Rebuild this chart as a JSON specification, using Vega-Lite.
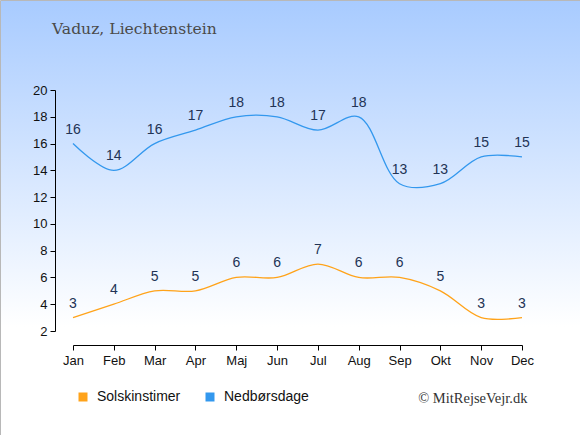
{
  "$schema": "https://vega.github.io/schema/vega-lite/v6.json",
  "width": 580,
  "height": 435,
  "padding": 0,
  "autosize": {"type": "none"},
  "title": {
    "text": "Vaduz, Liechtenstein",
    "anchor": "start",
    "orient": "top",
    "offset": -38,
    "dx": 52,
    "font": "DejaVu Serif",
    "fontSize": 15.6,
    "fontWeight": "normal",
    "color": "#4a4a4a"
  },
  "data": {
    "values": [
      {"month": "Jan", "series": "Solskinstimer", "value": 3},
      {"month": "Feb", "series": "Solskinstimer", "value": 4},
      {"month": "Mar", "series": "Solskinstimer", "value": 5},
      {"month": "Apr", "series": "Solskinstimer", "value": 5},
      {"month": "Maj", "series": "Solskinstimer", "value": 6},
      {"month": "Jun", "series": "Solskinstimer", "value": 6},
      {"month": "Jul", "series": "Solskinstimer", "value": 7},
      {"month": "Aug", "series": "Solskinstimer", "value": 6},
      {"month": "Sep", "series": "Solskinstimer", "value": 6},
      {"month": "Okt", "series": "Solskinstimer", "value": 5},
      {"month": "Nov", "series": "Solskinstimer", "value": 3},
      {"month": "Dec", "series": "Solskinstimer", "value": 3},
      {"month": "Jan", "series": "Nedbørsdage", "value": 16},
      {"month": "Feb", "series": "Nedbørsdage", "value": 14},
      {"month": "Mar", "series": "Nedbørsdage", "value": 16},
      {"month": "Apr", "series": "Nedbørsdage", "value": 17},
      {"month": "Maj", "series": "Nedbørsdage", "value": 18},
      {"month": "Jun", "series": "Nedbørsdage", "value": 18},
      {"month": "Jul", "series": "Nedbørsdage", "value": 17},
      {"month": "Aug", "series": "Nedbørsdage", "value": 18},
      {"month": "Sep", "series": "Nedbørsdage", "value": 13},
      {"month": "Okt", "series": "Nedbørsdage", "value": 13},
      {"month": "Nov", "series": "Nedbørsdage", "value": 15},
      {"month": "Dec", "series": "Nedbørsdage", "value": 15}
    ]
  },
  "encoding": {
    "x": {
      "field": "month",
      "type": "ordinal",
      "sort": ["Jan", "Feb", "Mar", "Apr", "Maj", "Jun", "Jul", "Aug", "Sep", "Okt", "Nov", "Dec"],
      "scale": {"type": "point", "range": [73, 522], "padding": 0},
      "axis": {
        "orient": "bottom",
        "offset": -90,
        "labelAngle": 0,
        "labelFont": "Liberation Sans",
        "labelFontSize": 13,
        "labelColor": "#111",
        "labelPadding": 4,
        "tickColor": "#000",
        "tickSize": 5,
        "domainColor": "#000",
        "grid": false,
        "title": "© MitRejseVejr.dk",
        "titleFont": "Liberation Serif",
        "titleFontSize": 14.5,
        "titleFontWeight": "normal",
        "titleColor": "#333",
        "titleAnchor": "end",
        "titleAlign": "right",
        "titleBaseline": "middle",
        "titleX": 527,
        "titleY": 53
      }
    },
    "y": {
      "field": "value",
      "type": "quantitative",
      "scale": {"domain": [2, 20], "range": [331, 90], "nice": false, "zero": false},
      "axis": {
        "orient": "left",
        "offset": -55,
        "values": [2, 4, 6, 8, 10, 12, 14, 16, 18, 20],
        "labelFont": "Liberation Sans",
        "labelFontSize": 13,
        "labelColor": "#111",
        "labelPadding": 3,
        "tickColor": "#000",
        "tickSize": 5,
        "domainColor": "#000",
        "grid": false,
        "title": null
      }
    }
  },
  "layer": [
    {
      "mark": {"type": "line", "interpolate": "catmull-rom", "strokeWidth": 1.3},
      "encoding": {
        "color": {
          "field": "series",
          "type": "nominal",
          "sort": ["Solskinstimer", "Nedbørsdage"],
          "scale": {"domain": ["Solskinstimer", "Nedbørsdage"], "range": ["#ffa31a", "#3398ee"]},
          "legend": {
            "orient": "none",
            "legendX": 76,
            "legendY": 390,
            "direction": "horizontal",
            "title": null,
            "symbolType": "square",
            "symbolSize": 81,
            "labelFont": "Liberation Sans",
            "labelFontSize": 14,
            "labelColor": "#111",
            "labelOffset": 7,
            "columnPadding": 22,
            "encode": {
              "symbols": {
                "update": {
                  "fill": {"scale": "color", "field": "value"},
                  "strokeWidth": {"value": 0}
                }
              }
            }
          }
        }
      }
    },
    {
      "mark": {"type": "text", "dy": -14, "baseline": "middle", "font": "Liberation Sans", "fontSize": 14, "color": "#223355"},
      "encoding": {
        "text": {"field": "value", "type": "quantitative"}
      }
    }
  ],
  "config": {
    "view": {
      "stroke": "#b8b8b8",
      "fill": {
        "gradient": "linear",
        "x1": 0, "y1": 0, "x2": 0, "y2": 1,
        "stops": [
          {"offset": 0, "color": "#a8cbff"},
          {"offset": 0.75, "color": "#ffffff"},
          {"offset": 1, "color": "#ffffff"}
        ]
      }
    }
  }
}
